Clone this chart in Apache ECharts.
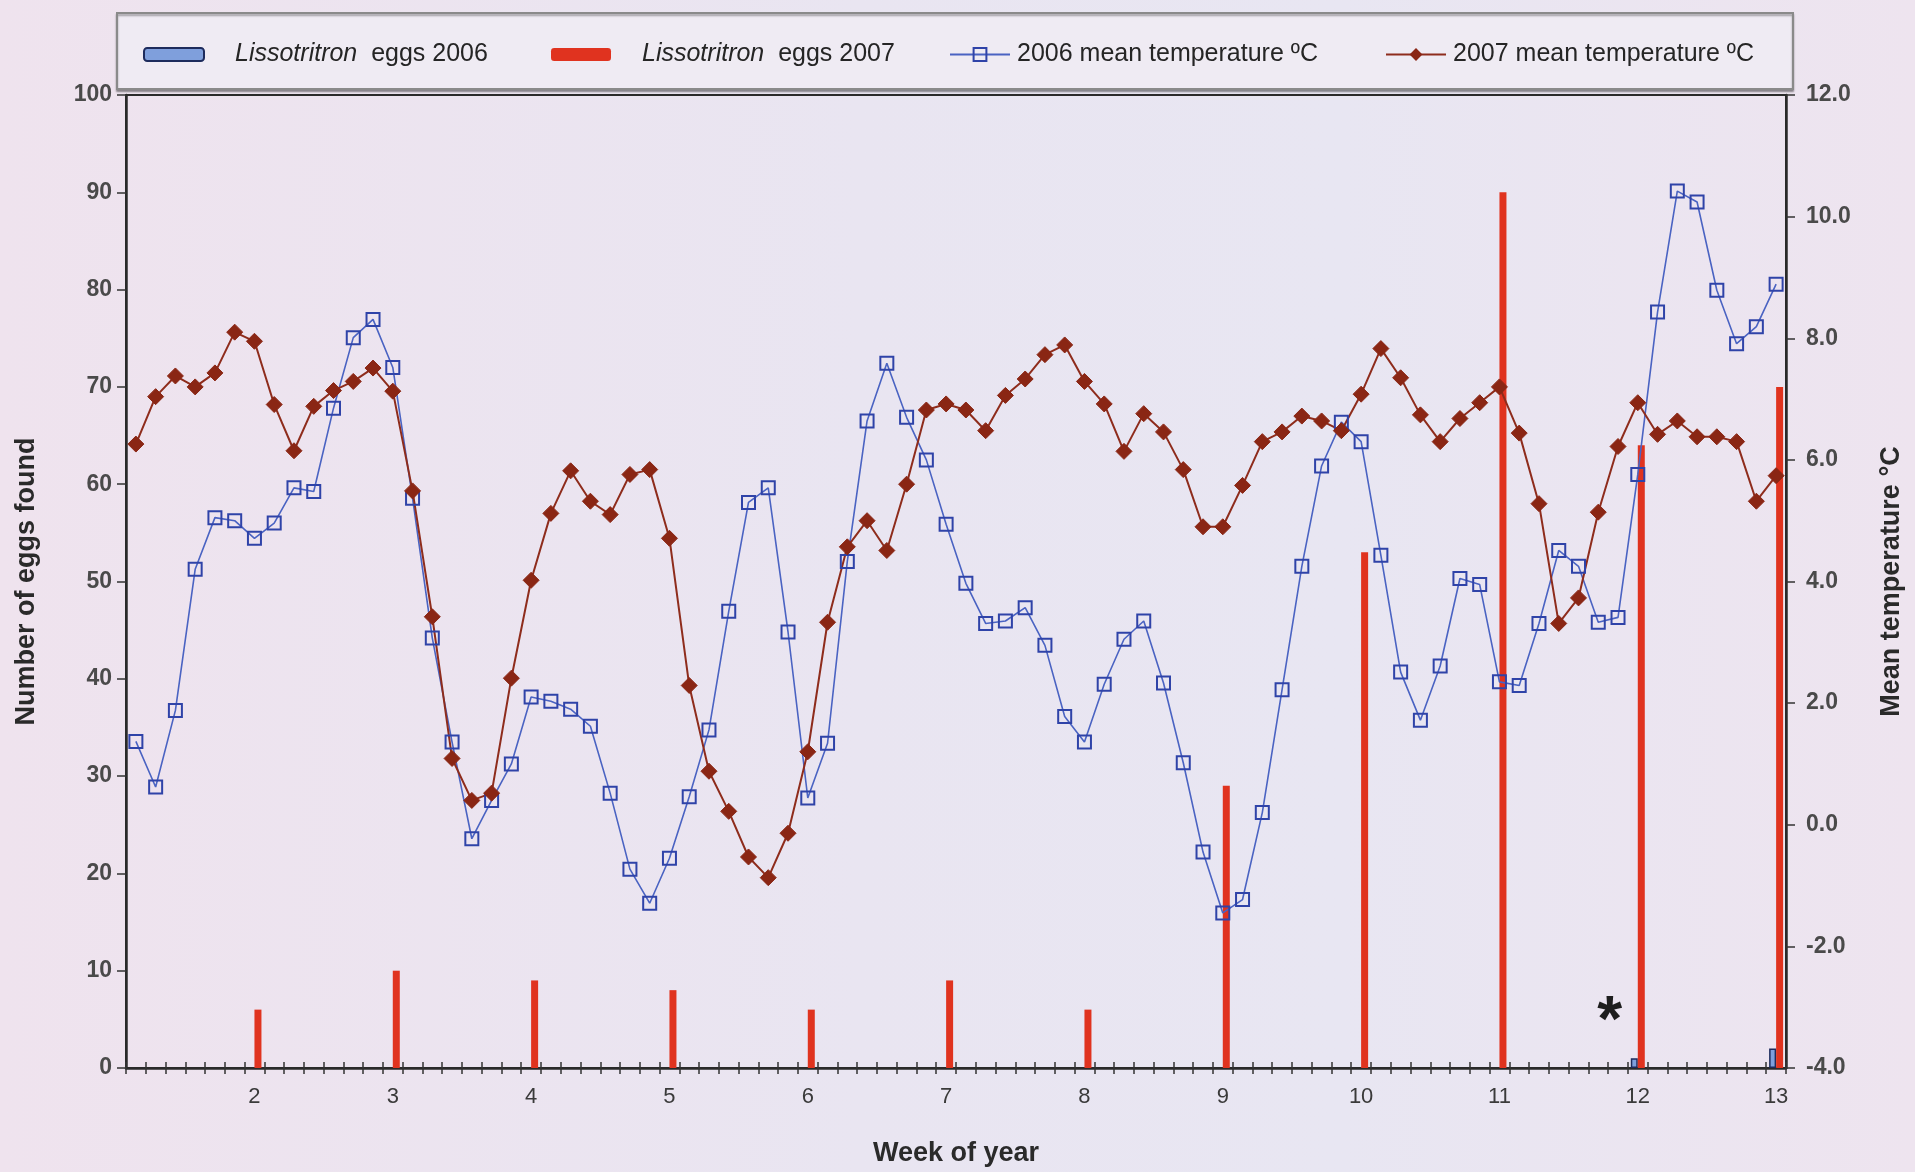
<!DOCTYPE html>
<html>
<head>
<meta charset="utf-8">
<script src="https://cdn.jsdelivr.net/npm/echarts@6/dist/echarts.min.js"></script>
<style>
html,body{margin:0;padding:0;}
#c{width:1915px;height:1172px;background:linear-gradient(90deg,#efe3ee 0%,#e9e5f1 45%,#e8e6f2 70%,#eee4ef 100%);}
</style>
</head>
<body>
<div id="c"></div>
<script>
// ---- data ----
var daysPerWeek = 7;
var weekTicks = ['2','3','4','5','6','7','8','9','10','11','12','13'];
// eggs found, at the end of each week (weeks 2..13)
var eggs2006 = [0,0,0,0,0,0,0,0,0,0,1,2];
var eggs2007 = [6,10,9,8,6,9,6,29,53,90,64,70];
// daily mean temperature (°C)
var temp2006 = [1.37,0.62,1.88,4.20,5.05,5.00,4.71,4.96,5.54,5.48,6.85,8.01,8.31,7.52,
  5.37,3.07,1.36,-0.23,0.40,1.00,2.10,2.03,1.90,1.62,0.52,-0.73,-1.29,-0.55,
  0.46,1.56,3.51,5.30,5.54,3.17,0.44,1.34,4.33,6.64,7.59,6.70,6.00,4.94,
  3.97,3.31,3.35,3.57,2.95,1.78,1.36,2.31,3.05,3.35,2.33,1.02,-0.45,-1.45,
  -1.23,0.20,2.22,4.25,5.90,6.62,6.30,4.43,2.51,1.72,2.61,4.05,3.95,2.35,
  2.29,3.31,4.51,4.25,3.33,3.41,5.76,8.43,10.42,10.24,8.79,7.91,8.19,8.89];
var temp2007 = [6.26,7.04,7.38,7.20,7.43,8.10,7.95,6.91,6.15,6.88,7.14,7.29,7.51,7.13,
  5.49,3.42,1.09,0.40,0.52,2.41,4.02,5.12,5.82,5.32,5.10,5.76,5.84,4.71,
  2.29,0.88,0.22,-0.53,-0.87,-0.14,1.20,3.33,4.57,5.00,4.51,5.60,6.82,6.92,
  6.82,6.48,7.06,7.33,7.73,7.89,7.29,6.92,6.14,6.76,6.46,5.84,4.90,4.90,
  5.58,6.30,6.46,6.72,6.64,6.48,7.08,7.83,7.35,6.74,6.30,6.68,6.94,7.20,
  6.44,5.28,3.31,3.73,5.14,6.22,6.94,6.42,6.64,6.38,6.38,6.30,5.32,5.74];
var asteriskNote = {day: 75, eggs: 6, text: '*'};

// ---- build category table ----
var days = [];
var bars2006 = [];
var bars2007 = [];
for (var w = 0; w < weekTicks.length; w++) {
  for (var d = 0; d < daysPerWeek; d++) {
    var last = d === daysPerWeek - 1;
    days.push(last ? weekTicks[w] : '');
    bars2006.push(last && eggs2006[w] > 0 ? eggs2006[w] : null);
    bars2007.push(last && eggs2007[w] > 0 ? eggs2007[w] : null);
  }
}
var catIdx = days.map(function(_, i){ return String(i); });

var FONT = '"Liberation Sans", Arial, sans-serif';
var chart = echarts.init(document.getElementById('c'), null, {renderer: 'canvas'});

function legendCfg(name, left, bar) {
  return {
    data: [name], left: left, top: 37,
    itemWidth: 60, itemHeight: bar ? 13 : 16,
    textStyle: {
      fontFamily: FONT, fontSize: 25, color: '#252525',
      padding: bar ? [0,0,0,26] : [0,0,0,2],
      rich: {
        i: {fontStyle: 'italic', fontFamily: FONT, fontSize: 25, color: '#252525'},
        n: {fontFamily: FONT, fontSize: 25, color: '#252525'}
      }
    },
    formatter: function(n){
      if (n.indexOf('Lissotritron') === 0) return '{i|Lissotritron}{n|  ' + n.slice(13) + '}';
      return n;
    }
  };
}

var option = {
  animation: false,
  backgroundColor: 'transparent',
  graphic: [{
    type: 'rect', left: 116, top: 12, z: -1,
    shape: {width: 1676, height: 76},
    style: {fill: '#efebf3', stroke: '#8a8a8a', lineWidth: 2, shadowColor: 'rgba(0,0,0,0.35)', shadowOffsetY: 2, shadowBlur: 2}
  }],
  legend: [
    legendCfg('Lissotritron eggs 2006', 138, true),
    legendCfg('Lissotritron eggs 2007', 546, true),
    legendCfg('2006 mean temperature ºC', 944, false),
    legendCfg('2007 mean temperature ºC', 1380, false)
  ],
  grid: {left: 126, right: 129, top: 95, bottom: 103, show: true, borderColor: '#2a2a2a', borderWidth: 2, backgroundColor: 'transparent'},
  xAxis: [{
    type: 'category', data: catIdx, boundaryGap: true,
    axisLine: {onZero: false, lineStyle: {color: '#2a2a2a', width: 2.5}},
    axisTick: {show: true, interval: 0, length: 6, lineStyle: {color: '#333', width: 1.5}},
    axisLabel: {
      interval: function(i){ return days[i] !== ''; },
      formatter: function(v){ return days[+v]; },
      margin: 18, fontFamily: FONT, fontSize: 22, color: '#3a3a3a'
    },
    name: 'Week of year', nameLocation: 'middle', nameGap: 72,
    nameTextStyle: {fontFamily: FONT, fontSize: 27, fontWeight: 'bold', color: '#2a2a2a'}
  }, {
    type: 'category', data: catIdx, boundaryGap: true, position: 'bottom',
    axisLine: {show: false, onZero: false},
    axisTick: {show: true, inside: true, interval: 0, length: 6, lineStyle: {color: '#333', width: 1.5}},
    axisLabel: {show: false}
  }],
  yAxis: [{
    type: 'value', min: 0, max: 100, interval: 10, position: 'left',
    axisLine: {show: true, onZero: false, lineStyle: {color: '#2a2a2a', width: 2.5}},
    axisTick: {show: true, length: 9, lineStyle: {color: '#333', width: 1.5}},
    splitLine: {show: false},
    axisLabel: {margin: 14, fontFamily: FONT, fontSize: 23, fontWeight: 'bold', color: '#4a4a4a'},
    name: 'Number of eggs found', nameLocation: 'middle', nameGap: 86, nameRotate: 90,
    nameTextStyle: {fontFamily: FONT, fontSize: 27, fontWeight: 'bold', color: '#2a2a2a'}
  }, {
    type: 'value', min: -4, max: 12, interval: 2, position: 'right',
    axisLine: {show: true, onZero: false, lineStyle: {color: '#2a2a2a', width: 2.5}},
    axisTick: {show: true, length: 9, lineStyle: {color: '#333', width: 1.5}},
    splitLine: {show: false},
    axisLabel: {margin: 20, fontFamily: FONT, fontSize: 23, fontWeight: 'bold', color: '#4a4a4a',
      formatter: function(v){ return v.toFixed(1); }},
    name: 'Mean temperature °C', nameLocation: 'middle', nameGap: 92, nameRotate: 90,
    nameTextStyle: {fontFamily: FONT, fontSize: 27, fontWeight: 'bold', color: '#2a2a2a'}
  }],
  series: [{
    name: 'Lissotritron eggs 2006', type: 'bar', data: bars2006,
    xAxisIndex: 0, yAxisIndex: 0, barWidth: 7, barGap: '0%',
    itemStyle: {color: '#7f9fdc', borderColor: '#1d2b5c', borderWidth: 1.5}
  }, {
    name: 'Lissotritron eggs 2007', type: 'bar', data: bars2007,
    xAxisIndex: 0, yAxisIndex: 0, barWidth: 7, barGap: '0%',
    itemStyle: {color: '#e0331f'},
    markPoint: {
      symbol: 'circle', symbolSize: 1,
      itemStyle: {color: 'transparent'},
      label: {show: true, position: 'inside', offset: [8, 14], fontSize: 64, fontWeight: 'bold', color: '#1e1e1e', fontFamily: FONT,
        formatter: function(){ return asteriskNote.text; }},
      data: [{coord: [String(asteriskNote.day - 1), asteriskNote.eggs]}]
    }
  }, {
    name: '2006 mean temperature ºC', type: 'line', data: temp2006,
    xAxisIndex: 0, yAxisIndex: 1,
    symbol: 'rect', symbolSize: 13, showAllSymbol: true,
    lineStyle: {color: '#4a63c2', width: 1.6},
    itemStyle: {color: 'rgba(0,0,0,0)', borderColor: '#2f43a8', borderWidth: 2}
  }, {
    name: '2007 mean temperature ºC', type: 'line', data: temp2007,
    xAxisIndex: 0, yAxisIndex: 1,
    symbol: 'diamond', symbolSize: 16, showAllSymbol: true,
    lineStyle: {color: '#8e2c1c', width: 2},
    itemStyle: {color: '#8a2614', borderColor: '#8a2614'}
  }]
};
chart.setOption(option);
</script>
</body>
</html>
